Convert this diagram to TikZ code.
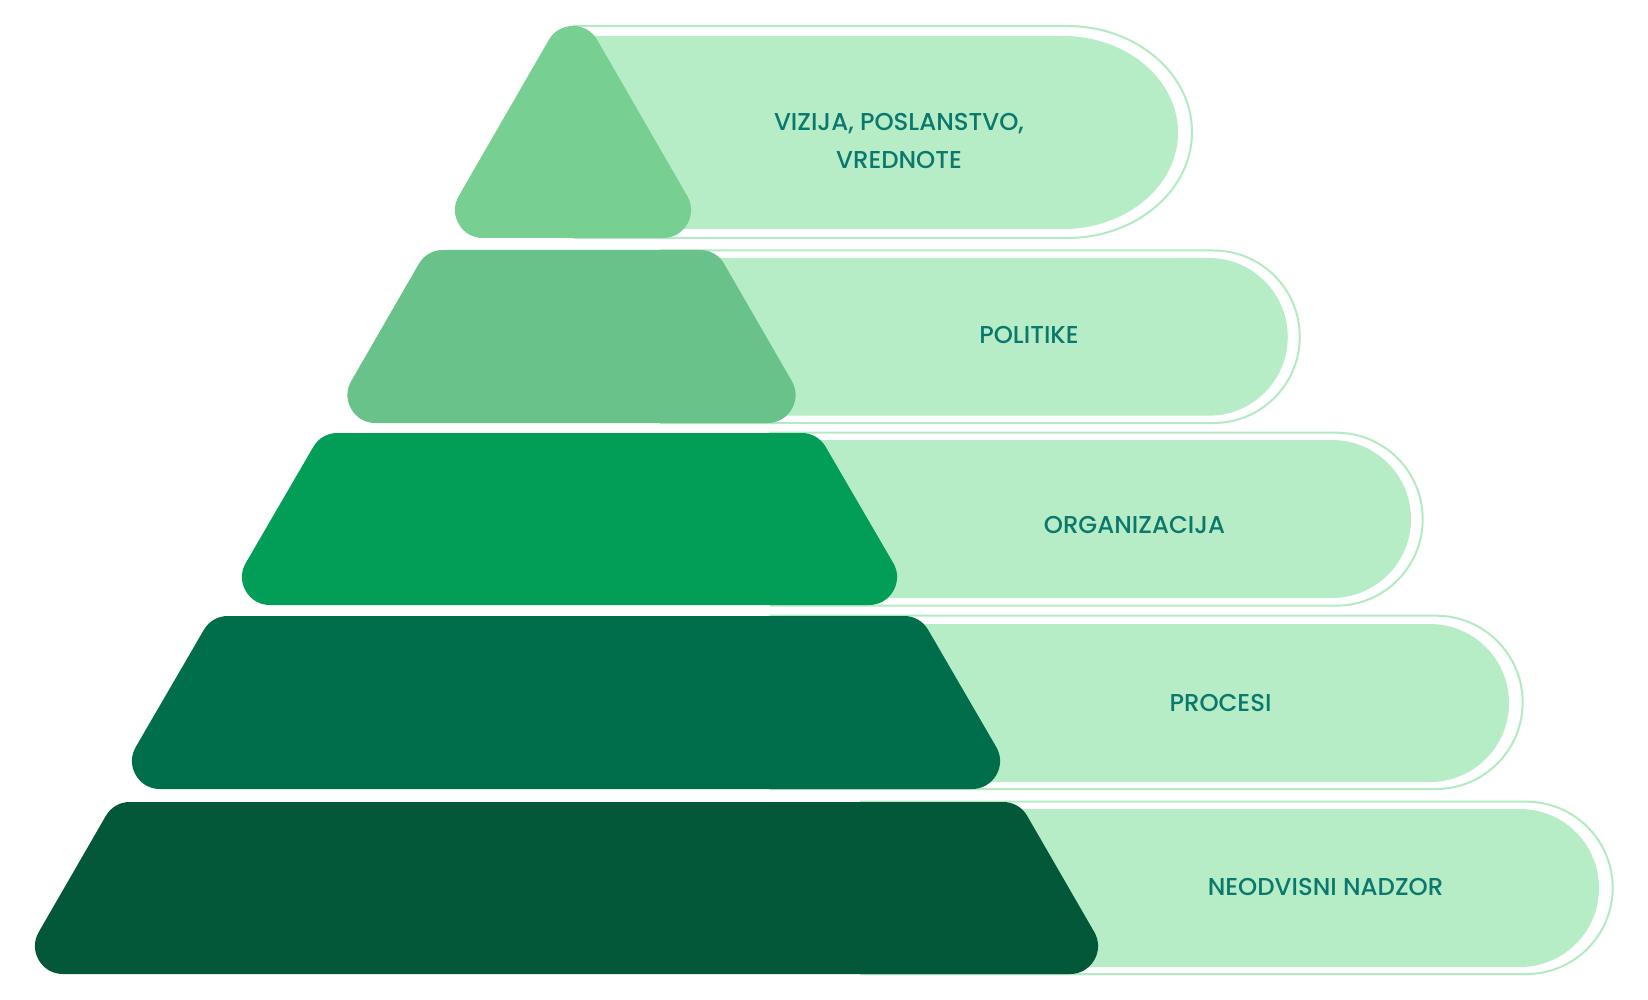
\documentclass[tikz,border=0pt]{standalone}
\usepackage{fontspec}
\setmainfont{Poppins}[UprightFont={* Medium}]
\definecolor{bandfill}{HTML}{B6EDC6}
\definecolor{bandrim}{HTML}{B2EBC3}
\definecolor{labeltext}{HTML}{0A786C}
\definecolor{tierA}{HTML}{77CF92}
\definecolor{tierB}{HTML}{68C28A}
\definecolor{tierC}{HTML}{029D56}
\definecolor{tierD}{HTML}{016E4B}
\definecolor{tierE}{HTML}{04583A}

\begin{document}
\begin{tikzpicture}[x=0.5pt,y=-0.5pt,
        rim/.style={draw=bandrim,line width=1pt},
        band/.style={fill=bandfill},
        block/.style={line width=28pt,line join=round},
        lbl/.style={text=labeltext,font=\fontsize{12.2}{19.2}\selectfont,align=center}]
    \useasboundingbox (0,0) rectangle (1648,1000);

    \draw[rim](573,26) -- (1067,26) arc[start angle=-90,end angle=90,x radius=125,y radius=106] -- (573,238);
    \fill[band](573,36) -- (1063,36) arc[start angle=-90,end angle=90,x radius=115,y radius=96.5] -- (573,229) -- cycle;
    \filldraw[block,fill=tierA,draw=tierA](573,54) -- (663,210) -- (483,210) -- cycle;
    \node[lbl](vizija)at(899, 141){VIZIJA, POSLANSTVO,\\VREDNOTE};

    \draw[rim](660,250.5) -- (1213.5,250.5) arc[start angle=-90,end angle=90,radius=86.25] -- (660,423);
    \fill[band](660,258) -- (1208.9,258) arc[start angle=-90,end angle=90,radius=78.85] -- (660,415.7) -- cycle;
    \filldraw[block,fill=tierB,draw=tierB](443,278) -- (700,278) -- (767.5,395) -- (375.5,395) -- cycle;
    \node[lbl](politike)at(1029, 335){POLITIKE};

    \draw[rim](770,432.7) -- (1336.2,432.7) arc[start angle=-90,end angle=90,radius=86.5] -- (770,605.7);
    \fill[band](770,440) -- (1332,440) arc[start angle=-90,end angle=90,radius=79] -- (770,598) -- cycle;
    \filldraw[block,fill=tierC,draw=tierC](337.5,461) -- (801.5,461) -- (869,577) -- (270,577) -- cycle;
    \node[lbl](organizacija)at(1134.5, 525){ORGANIZACIJA};

    \draw[rim](770,615.7) -- (1436,615.7) arc[start angle=-90,end angle=90,radius=86.65] -- (770,789);
    \fill[band](770,624) -- (1430,624) arc[start angle=-90,end angle=90,radius=79] -- (770,782) -- cycle;
    \filldraw[block,fill=tierD,draw=tierD](228,644) -- (904,644) -- (972,761) -- (160,761) -- cycle;
    \node[lbl](procesi)at(1220.5, 703){PROCESI};

    \draw[rim](860,801.7) -- (1526.5,801.7) arc[start angle=-90,end angle=90,radius=86.15] -- (860,974);
    \fill[band](860,809) -- (1520,809) arc[start angle=-90,end angle=90,radius=79] -- (860,967) -- cycle;
    \filldraw[block,fill=tierE,draw=tierE](130,830) -- (1003,830) -- (1070,946) -- (63,946) -- cycle;
    \node[lbl](nadzor)at(1325.5, 886.5){NEODVISNI NADZOR};
\end{tikzpicture}
\end{document}
